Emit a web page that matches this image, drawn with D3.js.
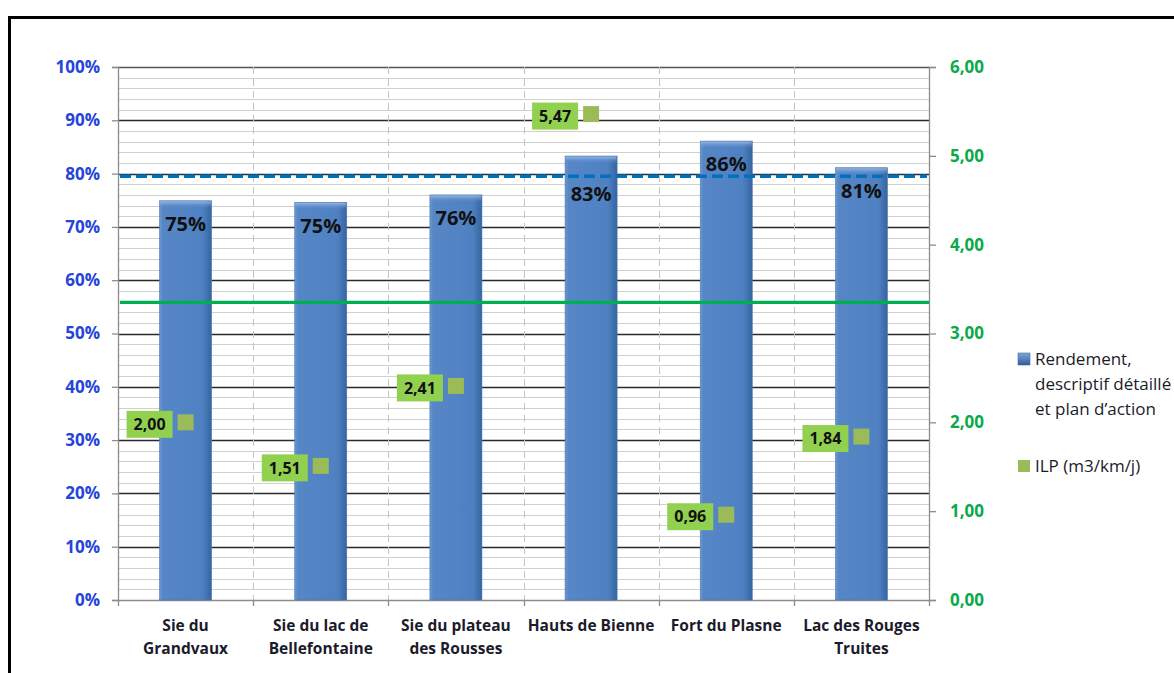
<!DOCTYPE html>
<html>
<head>
<meta charset="utf-8">
<script src="https://cdn.jsdelivr.net/npm/d3@7"></script>
<style>
  html, body { margin: 0; padding: 0; background: #fff; overflow: hidden; }
  svg { display: block; font-family: "Open Sans", "Noto Sans", sans-serif; }
</style>
</head>
<body>
<svg id="chart" width="1174" height="673"></svg>
<script>
// Syndicates / services
const categories = [
  "Sie du\nGrandvaux",
  "Sie du lac de\nBellefontaine",
  "Sie du plateau\ndes Rousses",
  "Hauts de Bienne",
  "Fort du Plasne",
  "Lac des Rouges\nTruites"
];
// Network efficiency (left axis)
const rendement = [0.749, 0.746, 0.760, 0.833, 0.861, 0.811];
// Linear loss index, m3/km/day (right axis)
const ilp = [2.00, 1.51, 2.41, 5.47, 0.96, 1.84];
// Reference levels
const rendementTarget = 0.795;
const ilpTarget = 3.35;
// Tick values
const leftTicks = [0, 0.1, 0.2, 0.3, 0.4, 0.5, 0.6, 0.7, 0.8, 0.9, 1.0];
const rightTicks = [0, 1, 2, 3, 4, 5, 6];
// Legend entries
const legendRendement = ["Rendement,", "descriptif détaillé", "et plan d’action"];
const legendIlp = "ILP (m3/km/j)";

const svg = d3.select("#chart");
const frLocale = d3.formatLocale({ decimal: ",", thousands: " ", grouping: [3], currency: ["", " €"] });
const fmtIlp = frLocale.format(".2f");
const fmtPct = d3.format(".0%");

const plot = { left: 118, right: 929, top: 67, bottom: 600 };

const x = d3.scaleBand().domain(categories)
  .range([plot.left, plot.right])
  .paddingInner(0.615).paddingOuter(0.3075);
const y = d3.scaleLinear().domain([0, 1]).range([plot.bottom, plot.top]);
const y2 = d3.scaleLinear().domain([0, 6]).range([plot.bottom, plot.top]);

// Outer frame
svg.append("rect")
  .attr("x", 9.5).attr("y", 17.5).attr("width", 1300).attr("height", 800)
  .attr("fill", "none").attr("stroke", "#000").attr("stroke-width", 3);

// Defs: bar gradients
const defs = svg.append("defs");
const gH = defs.append("linearGradient").attr("id", "barH").attr("x1", 0).attr("x2", 1).attr("y1", 0).attr("y2", 0);
gH.append("stop").attr("offset", "0%").attr("stop-color", "#6d9ad3");
gH.append("stop").attr("offset", "6%").attr("stop-color", "#5686c6");
gH.append("stop").attr("offset", "82%").attr("stop-color", "#4f81c2");
gH.append("stop").attr("offset", "100%").attr("stop-color", "#35659f");
const gTop = defs.append("linearGradient").attr("id", "barTop").attr("x1", 0).attr("x2", 0).attr("y1", 0).attr("y2", 1);
gTop.append("stop").attr("offset", "0%").attr("stop-color", "#9dbde6").attr("stop-opacity", 0.9);
gTop.append("stop").attr("offset", "100%").attr("stop-color", "#5686c6").attr("stop-opacity", 0);
const gLeg = defs.append("linearGradient").attr("id", "legBlue").attr("x1", 0).attr("x2", 0).attr("y1", 0).attr("y2", 1);
gLeg.append("stop").attr("offset", "0%").attr("stop-color", "#7fa7da");
gLeg.append("stop").attr("offset", "100%").attr("stop-color", "#2f5d98");

// Horizontal gridlines: minor every 2 %, major every 10 %
const grid = svg.append("g");
grid.selectAll("line.minor")
  .data(d3.range(0, 51).map(i => i / 50).filter((v, i) => i % 5 !== 0))
  .join("line").attr("class", "minor")
  .attr("x1", plot.left).attr("x2", plot.right)
  .attr("y1", d => Math.round(y(d)) + 0.5).attr("y2", d => Math.round(y(d)) + 0.5)
  .attr("stroke", "#d0d0d0").attr("stroke-width", 1.2);
grid.selectAll("line.major")
  .data(leftTicks.slice(1))
  .join("line").attr("class", "major")
  .attr("x1", plot.left).attr("x2", plot.right)
  .attr("y1", d => Math.round(y(d)) + 0.5).attr("y2", d => Math.round(y(d)) + 0.5)
  .attr("stroke", d => d === 1 ? "#555" : "#2a2a2a").attr("stroke-width", 1.3);

// Vertical dashed separators between categories
const bounds = d3.range(categories.length + 1).map(i => plot.left + i * x.step());
grid.selectAll("line.vsep")
  .data(bounds.slice(1, -1))
  .join("line").attr("class", "vsep")
  .attr("x1", d => Math.round(d) + 0.5).attr("x2", d => Math.round(d) + 0.5)
  .attr("y1", plot.top).attr("y2", plot.bottom)
  .attr("stroke", "#c4c4c4").attr("stroke-width", 1).attr("stroke-dasharray", "7,5");

// Left axis
const axL = svg.append("g").attr("transform", `translate(${plot.left},0)`)
  .call(d3.axisLeft(y).tickValues(leftTicks).tickFormat(fmtPct).tickSize(6).tickPadding(12));
axL.select(".domain").attr("stroke", "#8c8c8c").attr("stroke-width", 1.3);
axL.selectAll(".tick line").attr("stroke", "#8c8c8c").attr("stroke-width", 1.3);
axL.selectAll("text").attr("fill", "#2445d8").attr("font-size", 17).attr("font-weight", 700)
  .attr("font-family", "'Open Sans', sans-serif");

// Right axis
const axR = svg.append("g").attr("transform", `translate(${plot.right},0)`)
  .call(d3.axisRight(y2).tickValues(rightTicks).tickFormat(fmtIlp).tickSize(7).tickPadding(14));
axR.select(".domain").attr("stroke", "#8c8c8c").attr("stroke-width", 1.3);
axR.selectAll(".tick line").attr("stroke", "#8c8c8c").attr("stroke-width", 1.3);
axR.selectAll("text").attr("fill", "#0aaa4a").attr("font-size", 17).attr("font-weight", 700)
  .attr("font-family", "'Open Sans', sans-serif");

// Bottom axis line with separator ticks
const axB = svg.append("g");
axB.append("line").attr("x1", plot.left).attr("x2", plot.right)
  .attr("y1", plot.bottom + 0.5).attr("y2", plot.bottom + 0.5)
  .attr("stroke", "#8c8c8c").attr("stroke-width", 1.3);
axB.selectAll("line.bt").data(bounds).join("line").attr("class", "bt")
  .attr("x1", d => Math.round(d) + 0.5).attr("x2", d => Math.round(d) + 0.5)
  .attr("y1", plot.bottom).attr("y2", plot.bottom + 6)
  .attr("stroke", "#8c8c8c").attr("stroke-width", 1.3);

// Category labels
const catG = svg.append("g");
categories.forEach(c => {
  const lines = c.split("\n");
  const t = catG.append("text")
    .attr("x", x(c) + x.bandwidth() / 2).attr("y", 631)
    .attr("text-anchor", "middle").attr("font-size", 15.5).attr("font-weight", 700)
    .attr("fill", "#1b1b2b");
  lines.forEach((l, i) => t.append("tspan").attr("x", x(c) + x.bandwidth() / 2).attr("dy", i === 0 ? 0 : 23).text(l));
});

// Bars
const bars = svg.append("g");
bars.selectAll("rect.bar").data(rendement).join("rect").attr("class", "bar")
  .attr("x", (d, i) => x(categories[i]))
  .attr("y", d => y(d))
  .attr("width", x.bandwidth())
  .attr("height", d => plot.bottom - y(d))
  .attr("fill", "url(#barH)")
  .attr("stroke", "#4a78b4").attr("stroke-width", 0.6);
bars.selectAll("rect.bevel").data(rendement).join("rect").attr("class", "bevel")
  .attr("x", (d, i) => x(categories[i]) + 0.5)
  .attr("y", d => y(d) + 0.5)
  .attr("width", x.bandwidth() - 1)
  .attr("height", 7)
  .attr("fill", "url(#barTop)");

// Reference lines
const targetY = y(rendementTarget);
svg.append("line")
  .attr("x1", plot.left + 2).attr("x2", plot.right - 2)
  .attr("y1", targetY).attr("y2", targetY)
  .attr("stroke", "#0070c0").attr("stroke-width", 3.5).attr("stroke-dasharray", "11,5");
svg.append("line")
  .attr("x1", plot.left + 2).attr("x2", plot.right)
  .attr("y1", y2(ilpTarget)).attr("y2", y2(ilpTarget))
  .attr("stroke", "#00b050").attr("stroke-width", 3.2);

// Bar value labels (inside end; pushed below the target line when they would overlap it)
svg.append("g").selectAll("text").data(rendement).join("text")
  .attr("x", (d, i) => x(categories[i]) + x.bandwidth() / 2)
  .attr("y", d => {
    let cy = y(d) + 23;
    if (Math.abs(cy - targetY) < 12) cy = targetY + 18;
    return cy;
  })
  .attr("dy", "0.36em")
  .attr("text-anchor", "middle").attr("font-size", 20).attr("font-weight", 700)
  .attr("fill", "#111")
  .text(d => fmtPct(d));

// ILP markers and labels
const ptG = svg.append("g");
const mk = 16;
ilp.forEach((v, i) => {
  const cx = x(categories[i]) + x.bandwidth() / 2;
  const cy = y2(v);
  ptG.append("rect").attr("x", cx - mk / 2).attr("y", cy - mk / 2)
    .attr("width", mk).attr("height", mk).attr("fill", "#9bbb59");
  const bw = 46, bh = 27;
  const bx = cx - mk / 2 - 5 - bw;
  ptG.append("rect").attr("x", bx).attr("y", cy + 2 - bh / 2)
    .attr("width", bw).attr("height", bh).attr("fill", "#92d050");
  ptG.append("text").attr("x", bx + bw / 2).attr("y", cy + 2).attr("dy", "0.36em")
    .attr("text-anchor", "middle").attr("font-size", 16).attr("font-weight", 700)
    .attr("fill", "#111").text(fmtIlp(v));
});

// Legend
const leg = svg.append("g").attr("font-size", 17).attr("fill", "#1b1b2b");
leg.append("rect").attr("x", 1018).attr("y", 353).attr("width", 12).attr("height", 12)
  .attr("fill", "url(#legBlue)").attr("stroke", "#3c6aa8").attr("stroke-width", 0.6);
legendRendement.forEach((l, i) => {
  leg.append("text").attr("x", 1035).attr("y", 359 + i * 25).attr("dy", "0.36em").text(l);
});
leg.append("rect").attr("x", 1018).attr("y", 460).attr("width", 12).attr("height", 12)
  .attr("fill", "#9bbb59");
leg.append("text").attr("x", 1035).attr("y", 466).attr("dy", "0.36em").text(legendIlp);
</script>
</body>
</html>
